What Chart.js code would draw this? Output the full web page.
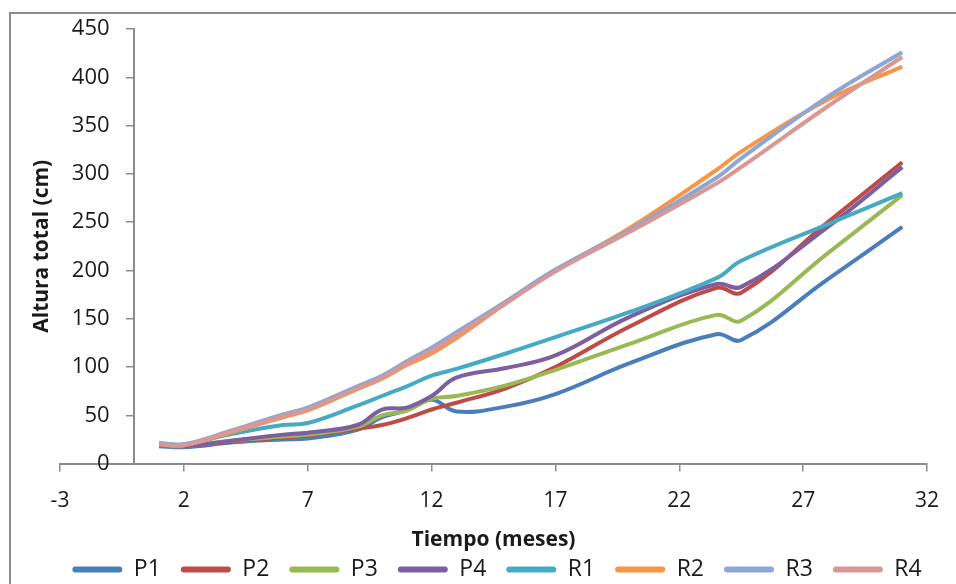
<!DOCTYPE html>
<html>
<head>
<meta charset="utf-8">
<script src="https://cdn.jsdelivr.net/npm/chart.js@4/dist/chart.umd.min.js"></script>
<style>
    body { margin: 0; background: #fff; }
    #wrap { position: relative; width: 956px; height: 584px; }
    #frame {
        position: absolute; left: 9px; top: 12px; right: 0; bottom: 0;
        border-top: 2px solid #8c8c8c; border-left: 2px solid #8c8c8c;
    }
    canvas { position: absolute; left: 0; top: 0; }
</style>
</head>
<body>
<div id="wrap">
    <div id="frame"></div>
    <canvas id="alturaChart" width="956" height="584"></canvas>
</div>
<script>
// Months of measurement
const months = [1, 2, 4, 6, 7, 9, 10, 11, 12, 13, 15, 17, 20, 23.5, 24.5, 28, 31];

// Total height (cm) per plot
const p1 = [18, 17, 22, 25, 26, 35, 48, 55, 66, 54, 59, 72, 104, 134, 128, 191, 245];
const p2 = [19, 18, 23, 27, 29, 36, 40, 47, 56, 63, 78, 100, 142, 182, 177, 250, 312];
const p3 = [19, 18, 24, 28, 30, 38, 50, 55, 67, 70, 81, 97, 124, 154, 148, 218, 278];
const p4 = [19, 18, 24, 30, 32, 40, 56, 58, 70, 89, 99, 112, 152, 186, 183, 245, 307];
const r1 = [21, 20, 31, 40, 42, 60, 70, 80, 91, 98, 114, 131, 157, 192, 210, 248, 280];
const r2 = [20, 19, 33, 48, 55, 77, 88, 102, 114, 130, 166, 200, 244, 304, 323, 377, 411];
const r3 = [21, 20, 35, 51, 58, 80, 91, 106, 120, 136, 168, 201, 242, 296, 316, 380, 426];
const r4 = [20, 19, 34, 49, 56, 78, 89, 104, 117, 133, 166, 199, 240, 290, 307, 370, 421];

const seriesNames = ["P1", "P2", "P3", "P4", "R1", "R2", "R3", "R4"];
const seriesData = [p1, p2, p3, p4, r1, r2, r3, r4];
const seriesColors = ["#4A7EBB", "#BE4B48", "#98B954", "#7D5FA0", "#46AAC5", "#F79646", "#8DA6D3", "#D99796"];

const axisGrey = "#8c8c8c";

Chart.defaults.font.family = "'Open Sans', sans-serif";
Chart.defaults.color = "#1a1a1a";

// Vertical axis title, drawn beside the chart area
const yTitle = {
    id: "yTitle",
    afterDraw(chart) {
        const ctx = chart.ctx;
        const area = chart.chartArea;
        ctx.save();
        ctx.translate(42, (area.top + area.bottom) / 2);
        ctx.rotate(-Math.PI / 2);
        ctx.font = "bold 21px 'Open Sans', sans-serif";
        ctx.fillStyle = "#1a1a1a";
        ctx.textAlign = "center";
        ctx.textBaseline = "middle";
        ctx.fillText("Altura total (cm)", 0, 0);
        ctx.restore();
    }
};

// empty side axes that only reserve room around the plot
function spacer(pos, width) {
    return {
        position: pos,
        min: 0,
        max: 450,
        ticks: { display: false },
        grid: { display: false },
        border: { display: false },
        afterFit: scale => { scale.width = width; }
    };
}

const datasets = seriesNames.map((name, i) => ({
    label: name,
    data: months.map((m, j) => ({ x: m, y: seriesData[i][j] })),
    borderColor: seriesColors[i],
    backgroundColor: seriesColors[i],
    borderWidth: 4,
    pointRadius: 0,
    fill: false,
    tension: 0.4,
    order: seriesNames.length - i
}));

new Chart(document.getElementById("alturaChart"), {
    type: "line",
    data: { datasets: datasets },
    plugins: [yTitle],
    options: {
        responsive: false,
        animation: false,
        layout: { padding: { left: 38, right: 0, top: 29, bottom: -7 } },
        scales: {
            x: {
                type: "linear",
                min: -3,
                max: 32,
                ticks: { stepSize: 5, padding: 17, font: { size: 21 } },
                grid: { drawOnChartArea: false, tickLength: 8, color: axisGrey, lineWidth: 1.5 },
                border: { color: axisGrey, width: 2 },
                title: {
                    display: true,
                    text: "Tiempo (meses)",
                    font: { size: 21, weight: "bold" },
                    padding: { top: -3, bottom: -15 }
                }
            },
            // axis line and tick marks crossing at month 0
            y: {
                position: { x: 0 },
                min: 0,
                max: 450,
                ticks: { stepSize: 50, display: false },
                grid: { drawOnChartArea: false, tickLength: 7, color: axisGrey, lineWidth: 1.5 },
                border: { color: axisGrey, width: 2 }
            },
            // tick labels of the height axis
            yLabels: {
                position: { x: -1 },
                min: 0,
                max: 450,
                ticks: { stepSize: 50, font: { size: 22 } },
                grid: { display: false },
                border: { display: false }
            },
            padLeft: spacer("left", 22),
            padRight: spacer("right", 28)
        },
        plugins: {
            legend: {
                position: "bottom",
                labels: {
                    boxWidth: 50,
                    boxHeight: 6,
                    padding: 20,
                    font: { size: 23 },
                    sort: (a, b) => a.datasetIndex - b.datasetIndex,
                    generateLabels: chart =>
                        Chart.defaults.plugins.legend.labels.generateLabels(chart).map(item => ({
                            ...item, lineWidth: 0, borderRadius: 3
                        })),
                    useBorderRadius: true,
                    borderRadius: 3
                }
            },
            tooltip: { enabled: false }
        }
    }
});
</script>
</body>
</html>
